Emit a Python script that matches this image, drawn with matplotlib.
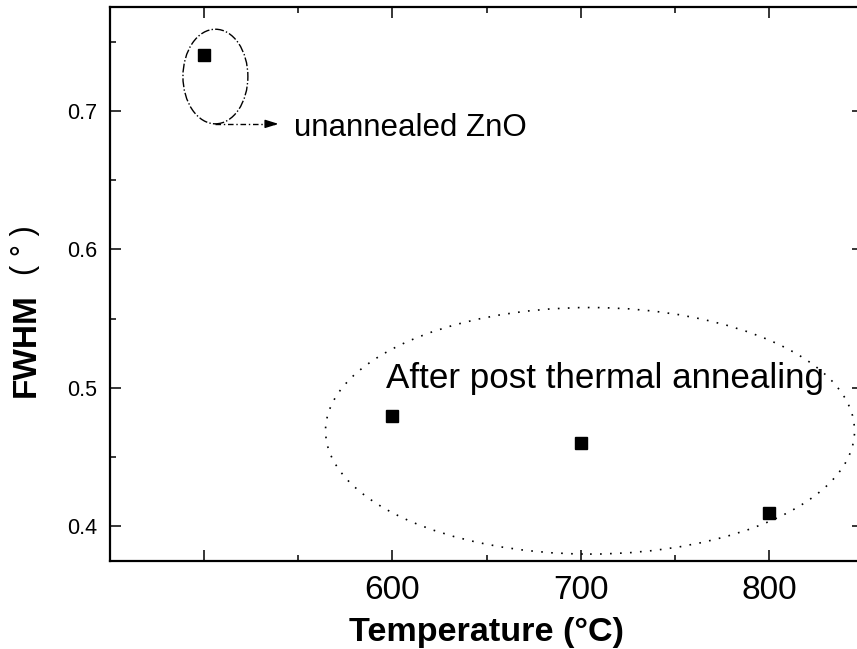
import matplotlib
matplotlib.use("Agg")
import matplotlib.pyplot as plt
from matplotlib.patches import Ellipse
from matplotlib.ticker import FixedLocator, NullFormatter

plt.rcParams['font.family'] = ['Liberation Sans', 'DejaVu Sans']

# FWHM of the ZnO peak versus annealing temperature
temperature = [500, 600, 700, 800]
fwhm = [0.74, 0.48, 0.46, 0.41]

x_major = [500, 600, 700, 800]
x_major_labels = ['', '600', '700', '800']
x_minor = [550, 650, 750]
y_major = [0.4, 0.5, 0.6, 0.7]
y_major_labels = ['0.4', '0.5', '0.6', '0.7']
y_minor = [0.45, 0.55, 0.65, 0.75]

W, H = 857, 649
fig = plt.figure(figsize=(W / 100, H / 100), dpi=100)
ax = fig.add_axes([110 / W, 1 - 561 / H, (863 - 110) / W, (561 - 7) / H])

ax.plot(temperature, fwhm, linestyle='none', marker='s', markersize=8,
        color='black', zorder=3)

ax.set_xlim(450, 850)
ax.set_ylim(0.375, 0.775)

ax.xaxis.set_major_locator(FixedLocator(x_major))
ax.set_xticklabels(x_major_labels, fontsize=24)
ax.xaxis.set_minor_locator(FixedLocator(x_minor))
ax.yaxis.set_major_locator(FixedLocator(y_major))
ax.set_yticklabels(y_major_labels, fontsize=15.5)
ax.yaxis.set_minor_locator(FixedLocator(y_minor))
ax.xaxis.set_minor_formatter(NullFormatter())
ax.yaxis.set_minor_formatter(NullFormatter())

ax.tick_params(which='both', direction='in', top=True, right=True, width=1.1,
               color='black')
ax.tick_params(which='major', length=8)
ax.tick_params(which='minor', length=4.5)
ax.tick_params(axis='x', which='major', pad=10)
ax.tick_params(axis='y', which='major', pad=9)
for s in ax.spines.values():
    s.set_linewidth(1.6)
ax.spines['right'].set_visible(False)

# Grouping outline around the unannealed sample, with a pointer to its label
ax.add_patch(Ellipse((506, 0.7248), 34.5, 0.0683, fill=False, edgecolor='black',
                     linewidth=1.0, linestyle='-.'))
ax.plot([506, 538], [0.6906, 0.6906], color='black', linewidth=1.0,
        linestyle=(0, (4, 2, 1, 2)))
ax.annotate('', xy=(541, 0.6906), xytext=(534, 0.6906),
            arrowprops=dict(arrowstyle='-|>,head_length=0.8,head_width=0.25',
                            color='black', linewidth=1.0))
ax.text(547.5, 0.682, 'unannealed ZnO', fontsize=22.5, va='baseline', ha='left')

# Grouping outline around the annealed samples
ax.add_patch(Ellipse((705, 0.469), 281, 0.178, fill=False, edgecolor='black',
                     linewidth=1.2, linestyle=(0, (1, 5))))
ax.text(596.5, 0.5, 'After post thermal annealing', fontsize=25.2,
        va='baseline', ha='left')

fig.text(486 / W, 1 - 633 / H, 'Temperature (°C)', fontsize=24.6,
         fontweight='bold', ha='center', va='center')
fig.text(26 / W, 1 - 345 / H, 'FWHM', fontsize=24, fontweight='bold',
         rotation=90, ha='center', va='center')
fig.text(25 / W, 1 - 250 / H, '( ° )', fontsize=22, rotation=90,
         ha='center', va='center')

fig.savefig('out.png', dpi=100)
